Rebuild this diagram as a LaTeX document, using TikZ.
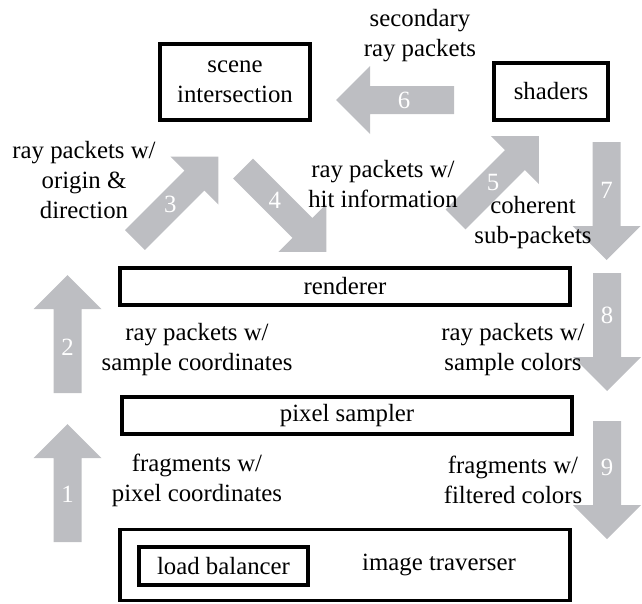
\documentclass[tikz,border=0pt]{standalone}
\usepackage{fontspec}
\setmainfont{Liberation Serif}
\newfontfamily\tms{Liberation Serif}
\definecolor{agray}{RGB}{189,190,194}
\tikzset{
  box/.style={draw=black, line width=3.2pt, inner sep=0pt, fill=white},
  lbl/.style={align=center, inner sep=0pt, text=black, font=\tms\fontsize{24.8}{30}\selectfont},
  numlbl/.style={text=white, inner sep=0pt, font=\tms\fontsize{24.8}{30}\selectfont},
}
\newcommand\blockarrow[5]{%
\begin{scope}[shift={#1}, rotate=#2]
\fill[agray] (0,-14) -- (84,-14) -- (84,-34) -- (118,0) -- (84,34) -- (84,14) -- (0,14) -- cycle;
\node[numlbl] (#5) at (#4,0) {#3};
\end{scope}}
\begin{document}
\begin{tikzpicture}[x=1pt,y=-1pt]
\useasboundingbox (0,0) rectangle (642,603);
% boxes
\node[box, minimum width=150pt, minimum height=76pt, lbl] (scene) at (235,82) {scene\\intersection};
\node[box, minimum width=114pt, minimum height=57pt, lbl] (shaders) at (551,91.5) {shaders};
\node[box, minimum width=450pt, minimum height=37pt, lbl] (renderer) at (345,286.5) {renderer};
\node[box, minimum width=450pt, minimum height=37pt, lbl] (sampler) at (347,415.5) {pixel sampler};
\node[box, minimum width=450pt, minimum height=71pt] (traverser) at (345,565) {};
\node[box, minimum width=169pt, minimum height=38pt, lbl] (balancer) at (223.5,566) {load balancer};
\node[lbl] (travtext) at (439,565) {image traverser};
% arrows
\blockarrow{(67.5,542)}{90}{1}{48}{n1}
\blockarrow{(67.5,393)}{90}{2}{46}{n2}
\blockarrow{(135,240)}{45}{3}{50}{n3}
\blockarrow{(243,168.5)}{-45}{4}{45}{n4}
\blockarrow{(455.5,219.5)}{45}{5}{53}{n5}
\blockarrow{(454,100)}{180}{6}{50}{n6}
\blockarrow{(606.5,142)}{-90}{7}{48}{n7}
\blockarrow{(607,273)}{-90}{8}{42}{n8}
\blockarrow{(607,421)}{-90}{9}{46}{n9}
% labels
\node[lbl] (t6) at (420,36) {secondary\\ray packets};
\node[lbl] (t3) at (84,180) {ray packets w/\\origin \&\\direction};
\node[lbl] (t4) at (383,184) {ray packets w/\\hit information};
\node[lbl] (t5) at (533,223) {coherent\\sub-packets};
\node[lbl] (t2) at (197,350) {ray packets w/\\sample coordinates};
\node[lbl] (t8) at (513,350) {ray packets w/\\sample colors};
\node[lbl] (t1) at (197,480) {fragments w/\\pixel coordinates};
\node[lbl] (t9) at (513,480) {fragments w/\\filtered colors};
\end{tikzpicture}
\end{document}
